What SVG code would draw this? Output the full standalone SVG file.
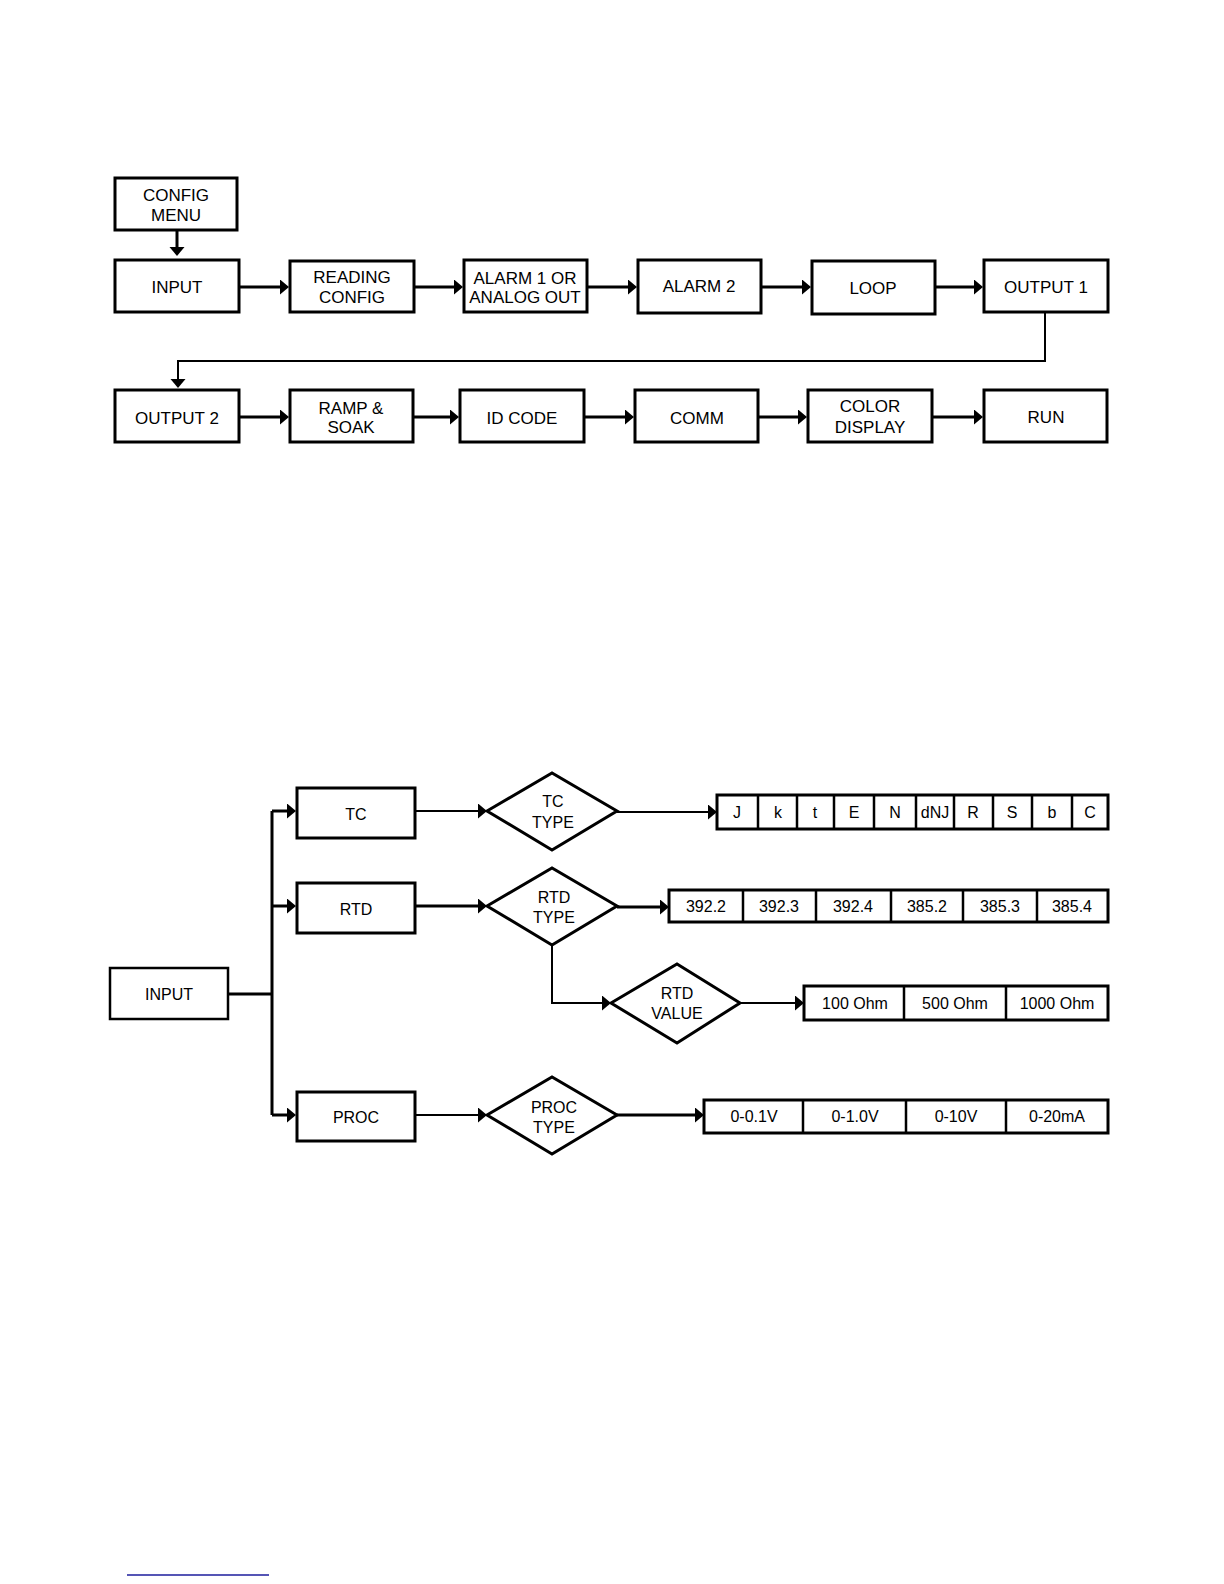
<svg xmlns="http://www.w3.org/2000/svg" width="1224" height="1584" viewBox="0 0 1224 1584">
<style>
.bx{fill:#fff;stroke:#000;stroke-width:3}
.bx2{fill:#fff;stroke:#000;stroke-width:2.5}
.ln{fill:none;stroke:#000;stroke-width:3}
.ln2{fill:none;stroke:#000;stroke-width:2}
.dv{stroke:#000;stroke-width:2.5}
.t{font-family:"Liberation Sans",Arial,sans-serif;font-size:17px;text-anchor:middle;fill:#000}
.s{font-family:"Liberation Sans",Arial,sans-serif;font-size:16px;text-anchor:middle;fill:#000}
</style>
<defs>
<marker id="ah" markerUnits="userSpaceOnUse" markerWidth="10" markerHeight="16" refX="1" refY="7.5" orient="auto" viewBox="0 0 10 16">
<path d="M0,0 L9,7.5 L0,15 z" fill="#000"/>
</marker>
</defs>
<rect width="1224" height="1584" fill="#fff"/>

<g id="connectors">
<path class="ln" d="M177,231 V248" marker-end="url(#ah)"/>
<path class="ln" d="M240,287 H281" marker-end="url(#ah)"/>
<path class="ln" d="M415,287 H455" marker-end="url(#ah)"/>
<path class="ln" d="M588,287 H629" marker-end="url(#ah)"/>
<path class="ln" d="M762,287 H803" marker-end="url(#ah)"/>
<path class="ln" d="M936,287 H975" marker-end="url(#ah)"/>
<path class="ln2" d="M1045,312 V361 H178 V380" marker-end="url(#ah)"/>
<path class="ln" d="M240,417 H281" marker-end="url(#ah)"/>
<path class="ln" d="M414,417 H451" marker-end="url(#ah)"/>
<path class="ln" d="M585,417 H626" marker-end="url(#ah)"/>
<path class="ln" d="M759,417 H799" marker-end="url(#ah)"/>
<path class="ln" d="M933,417 H975" marker-end="url(#ah)"/>

<path class="ln" d="M229,994 H272"/>
<path class="ln" d="M272,811 V1115"/>
<path class="ln" d="M272,811 H288" marker-end="url(#ah)"/>
<path class="ln" d="M272,906 H288" marker-end="url(#ah)"/>
<path class="ln" d="M272,1115 H288" marker-end="url(#ah)"/>
<path class="ln2" d="M416,811 H479" marker-end="url(#ah)"/>
<path class="ln2" d="M617,812 H709" marker-end="url(#ah)"/>
<path class="ln" d="M416,906 H479" marker-end="url(#ah)"/>
<path class="ln" d="M617,907 H661" marker-end="url(#ah)"/>
<path class="ln2" d="M552,945 V1003 H603" marker-end="url(#ah)"/>
<path class="ln2" d="M740,1003 H796" marker-end="url(#ah)"/>
<path class="ln2" d="M416,1115 H479" marker-end="url(#ah)"/>
<path class="ln" d="M617,1115 H696" marker-end="url(#ah)"/>
</g>

<g id="config-menu"><rect class="bx" x="115" y="178" width="122" height="52"/><text class="t" x="176" y="201">CONFIG</text><text class="t" x="176" y="221">MENU</text></g>
<g id="input-top"><rect class="bx" x="115" y="260" width="124" height="52"/><text class="t" x="177" y="293">INPUT</text></g>
<g id="reading-config"><rect class="bx" x="290" y="261" width="124" height="51"/><text class="t" x="352" y="283">READING</text><text class="t" x="352" y="303">CONFIG</text></g>
<g id="alarm1"><rect class="bx" x="464" y="260" width="123" height="52"/><text class="t" x="525" y="284">ALARM 1 OR</text><text class="t" x="525" y="303">ANALOG OUT</text></g>
<g id="alarm2"><rect class="bx" x="638" y="260" width="123" height="53"/><text class="t" x="699" y="292">ALARM 2</text></g>
<g id="loop"><rect class="bx" x="812" y="261" width="123" height="53"/><text class="t" x="873" y="294">LOOP</text></g>
<g id="output1"><rect class="bx" x="984" y="260" width="124" height="52"/><text class="t" x="1046" y="293">OUTPUT 1</text></g>
<g id="output2"><rect class="bx" x="115" y="390" width="124" height="52"/><text class="t" x="177" y="424">OUTPUT 2</text></g>
<g id="ramp-soak"><rect class="bx" x="290" y="390" width="123" height="52"/><text class="t" x="351" y="414">RAMP &amp;</text><text class="t" x="351" y="433">SOAK</text></g>
<g id="id-code"><rect class="bx" x="460" y="390" width="124" height="52"/><text class="t" x="522" y="424">ID CODE</text></g>
<g id="comm"><rect class="bx" x="635" y="390" width="123" height="52"/><text class="t" x="697" y="424">COMM</text></g>
<g id="color-display"><rect class="bx" x="808" y="390" width="124" height="52"/><text class="t" x="870" y="412">COLOR</text><text class="t" x="870" y="433">DISPLAY</text></g>
<g id="run"><rect class="bx" x="984" y="390" width="123" height="52"/><text class="t" x="1046" y="423">RUN</text></g>

<g id="input-bottom"><rect class="bx2" x="110" y="968" width="118" height="51"/><text class="s" x="169" y="1000">INPUT</text></g>
<g id="tc"><rect class="bx" x="297" y="788" width="118" height="50"/><text class="s" x="356" y="820">TC</text></g>
<g id="rtd"><rect class="bx" x="297" y="883" width="118" height="50"/><text class="s" x="356" y="915">RTD</text></g>
<g id="proc"><rect class="bx" x="297" y="1092" width="118" height="49"/><text class="s" x="356" y="1123">PROC</text></g>
<g id="tc-type"><polygon class="bx" points="487,811 552,773 617,811 552,850"/><text class="s" x="553" y="807">TC</text><text class="s" x="553" y="828">TYPE</text></g>
<g id="rtd-type"><polygon class="bx" points="487,906 552,868 617,906 552,945"/><text class="s" x="554" y="903">RTD</text><text class="s" x="554" y="923">TYPE</text></g>
<g id="rtd-value"><polygon class="bx" points="611,1003 677,964 740,1003 677,1043"/><text class="s" x="677" y="999">RTD</text><text class="s" x="677" y="1019">VALUE</text></g>
<g id="proc-type"><polygon class="bx" points="487,1115 552,1077 617,1115 552,1154"/><text class="s" x="554" y="1113">PROC</text><text class="s" x="554" y="1133">TYPE</text></g>

<g id="tc-list">
<rect class="bx" x="717" y="795" width="391" height="34"/>
<path class="dv" d="M758,795V829M797,795V829M834,795V829M874,795V829M916,795V829M954,795V829M993,795V829M1032,795V829M1072,795V829"/>
<text class="s" x="737" y="818">J</text><text class="s" x="778" y="818">k</text><text class="s" x="815" y="818">t</text><text class="s" x="854" y="818">E</text><text class="s" x="895" y="818">N</text><text class="s" x="935" y="818">dNJ</text><text class="s" x="973" y="818">R</text><text class="s" x="1012" y="818">S</text><text class="s" x="1052" y="818">b</text><text class="s" x="1090" y="818">C</text>
</g>
<g id="rtd-list">
<rect class="bx" x="669" y="890" width="439" height="32"/>
<path class="dv" d="M743,890V922M816,890V922M891,890V922M963,890V922M1037,890V922"/>
<text class="s" x="706" y="912">392.2</text><text class="s" x="779" y="912">392.3</text><text class="s" x="853" y="912">392.4</text><text class="s" x="927" y="912">385.2</text><text class="s" x="1000" y="912">385.3</text><text class="s" x="1072" y="912">385.4</text>
</g>
<g id="rtd-value-list">
<rect class="bx" x="804" y="986" width="304" height="34"/>
<path class="dv" d="M904,986V1020M1006,986V1020"/>
<text class="s" x="855" y="1009">100 Ohm</text><text class="s" x="955" y="1009">500 Ohm</text><text class="s" x="1057" y="1009">1000 Ohm</text>
</g>
<g id="proc-list">
<rect class="bx" x="704" y="1100" width="404" height="33"/>
<path class="dv" d="M803,1100V1133M906,1100V1133M1006,1100V1133"/>
<text class="s" x="754" y="1122">0-0.1V</text><text class="s" x="855" y="1122">0-1.0V</text><text class="s" x="956" y="1122">0-10V</text><text class="s" x="1057" y="1122">0-20mA</text>
</g>

<line x1="127" y1="1575" x2="269" y2="1575" stroke="#1c1c9c" stroke-width="1.5"/>
</svg>
